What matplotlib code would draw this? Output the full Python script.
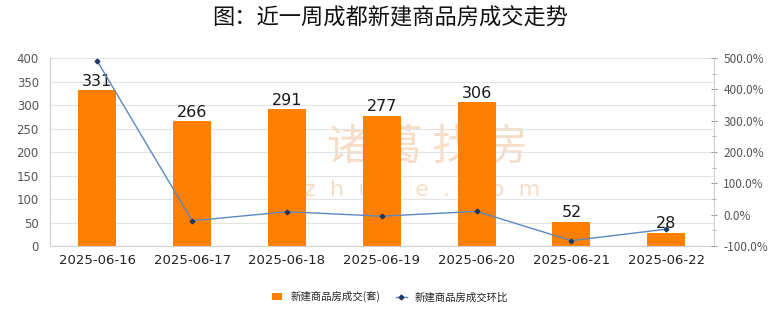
import matplotlib
matplotlib.use("Agg")
import matplotlib.pyplot as plt
from matplotlib.ticker import MultipleLocator, FixedLocator

plt.rcParams['font.family'] = ['Noto Sans CJK SC', 'DejaVu Sans']

dates = ["2025-06-16", "2025-06-17", "2025-06-18", "2025-06-19",
         "2025-06-20", "2025-06-21", "2025-06-22"]
deals = [331, 266, 291, 277, 306, 52, 28]
mom_pct = [490.0, -19.6, 9.4, -4.8, 10.5, -83.0, -46.2]
left_ticks = [0, 50, 100, 150, 200, 250, 300, 350, 400]
right_ticks = [-100, 0, 100, 200, 300, 400, 500]

title = "图：近一周成都新建商品房成交走势"
bar_label = "新建商品房成交(套)"
line_label = "新建商品房成交环比"

bar_color = "#FF8000"
line_color = "#5B88C0"
marker_color = "#1F3864"
grid_color = "#E3E3E3"
spine_color = "#D0D0D0"
mark_color = "#F6DDC8"

fig = plt.figure(figsize=(7.8, 3.28), dpi=100)
ax = fig.add_axes([0.064, 0.25, 0.851, 0.573])
ax2 = ax.twinx()

x = list(range(len(dates)))

# faint brand mark behind the bars
ax.text(0.569, 0.525, "诸 葛 找 房", transform=ax.transAxes, ha="center",
        va="center", fontsize=31, color=mark_color, zorder=0)
ax.text(0.56, 0.30, "z  h  u  g  e  .  c  o  m", transform=ax.transAxes,
        ha="center", va="center", fontsize=16, color=mark_color, zorder=0,
        family=["DejaVu Sans"])

bars = ax.bar(x, deals, width=0.4, color=bar_color, zorder=2, label=bar_label)
for xi, v in zip(x, deals):
    ax.text(xi, v + 3, str(v), ha="center", va="bottom", fontsize=11.5,
            color="#1A1A1A", family=["DejaVu Sans"], zorder=5)

ax.set_xlim(-0.5, len(dates) - 0.5)
ax.set_ylim(0, 400)
ax.yaxis.set_major_locator(FixedLocator(left_ticks))
ax.set_yticklabels([str(t) for t in left_ticks])
ax.set_xticks(x)
ax.set_xticklabels(dates)
ax.grid(axis="y", color=grid_color, linewidth=0.8, zorder=0)
ax.set_axisbelow(True)
ax.tick_params(axis="y", length=0, labelsize=8.5, labelcolor="#555555", pad=8)
ax.tick_params(axis="x", length=0, labelsize=9.5, labelcolor="#222222", pad=6)
for lbl in ax.get_yticklabels() + ax.get_xticklabels():
    lbl.set_family(["DejaVu Sans"])
for s in ["top", "right"]:
    ax.spines[s].set_visible(False)
ax.spines["left"].set_color(spine_color)
ax.spines["bottom"].set_color(spine_color)

line, = ax2.plot(x, mom_pct, color=line_color, linewidth=1.0, marker="D",
                 markersize=2.4, markerfacecolor=marker_color,
                 markeredgecolor=marker_color, zorder=4, label=line_label)
ax2.set_ylim(-100, 500)
ax2.yaxis.set_major_locator(FixedLocator(right_ticks))
ax2.yaxis.set_minor_locator(MultipleLocator(50))
ax2.set_yticklabels([f"{t:.1f}%" for t in right_ticks])
ax2.tick_params(axis="y", which="major", direction="inout", length=4,
                color="#999999", labelsize=8.5, labelcolor="#555555", pad=5)
ax2.tick_params(axis="y", which="minor", direction="inout", length=3,
                color="#999999")
for s in ["top", "left", "bottom"]:
    ax2.spines[s].set_visible(False)
ax2.spines["right"].set_color(spine_color)

fig.text(0.5, 0.945, title, ha="center", va="center", fontsize=16,
         color="#111111", weight="medium")

fig.legend([bars, line], [bar_label, line_label], loc="center",
           bbox_to_anchor=(0.5, 0.095), ncol=2, frameon=False, fontsize=7.5,
           handlelength=1.0, handleheight=0.7, columnspacing=1.5,
           handletextpad=0.8, labelcolor="#222222")

fig.savefig("out.png", dpi=100)
